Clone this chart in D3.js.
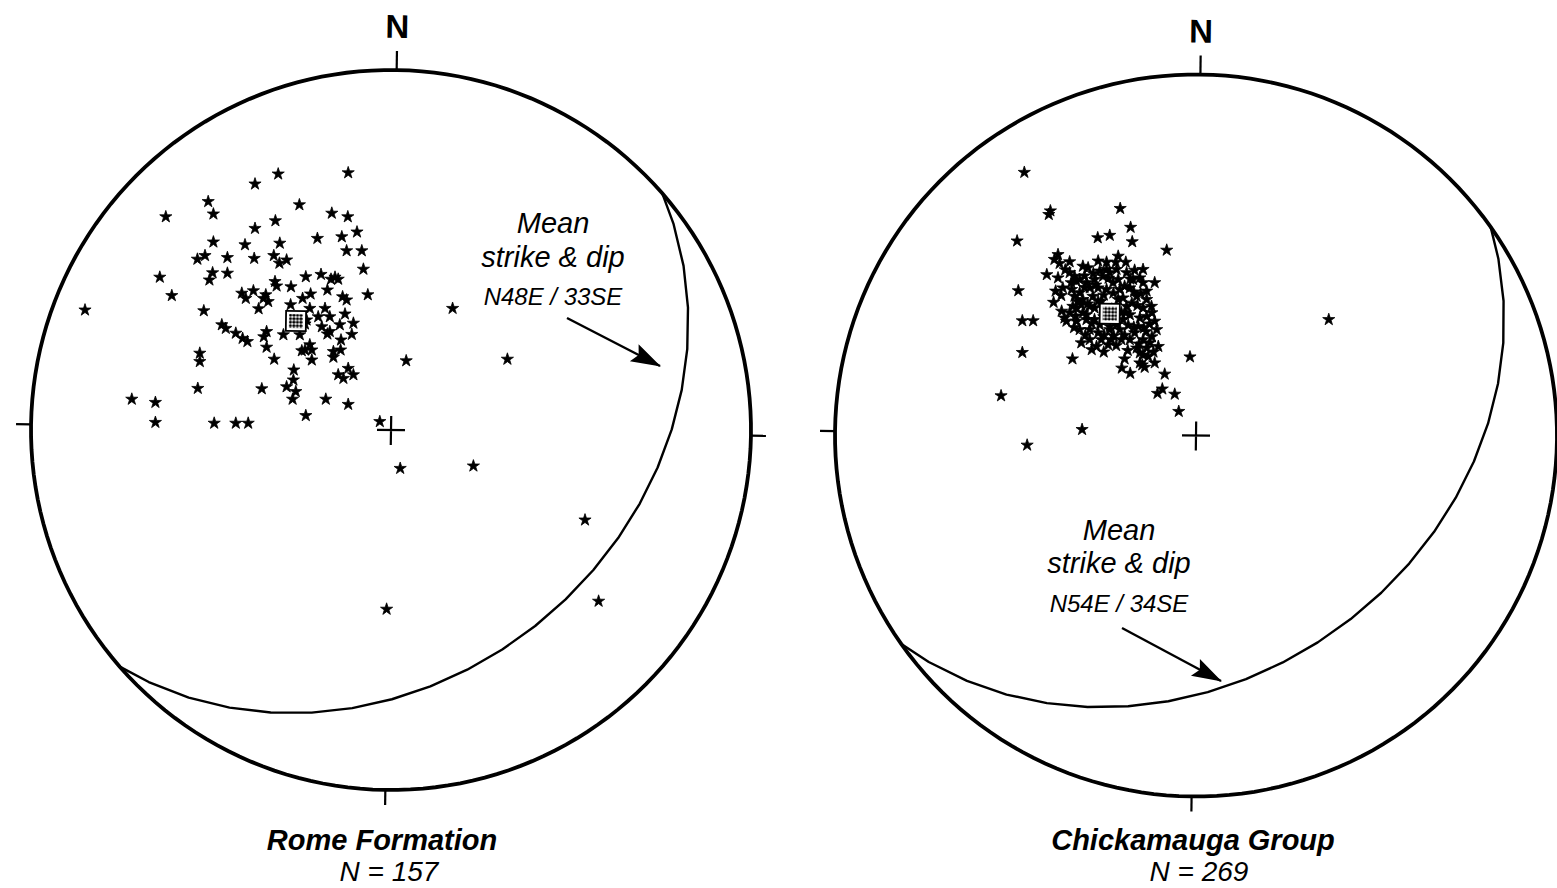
<!DOCTYPE html>
<html>
<head>
<meta charset="utf-8">
<script src="https://cdn.jsdelivr.net/npm/d3@7"></script>
<style>
  html, body { margin: 0; padding: 0; background: #fff; }
  text { font-family: "Liberation Sans", Arial, Helvetica, sans-serif; }
</style>
</head>
<body>
<script>
// ---------------- DATA ----------------
const netNames   = ["Rome Formation", "Chickamauga Group"];
const netCounts  = [157, 269];
const meanStrike = [48, 54];     // N48E, N54E
const meanDip    = [33, 34];     // 33SE, 34SE
const meanLabels = ["N48E / 33SE", "N54E / 34SE"];
const tickTrends = [0, 90, 180, 270];

// Poles to bedding (east, north; primitive radius = 90 units)
const romePoles = [
 [-10.7,64.3],[-28.2,64.0],[-34.0,61.5],[-45.7,57.1],[-22.9,56.3],[-56.3,53.3],[-44.4,54.0],[-14.8,54.2],[-10.8,53.3],[-28.9,52.3],
 [-34.0,50.4],[-8.5,49.5],[-12.3,48.3],[-18.4,47.9],[-44.4,47.0],[-36.5,46.3],[-27.8,46.7],[-11.1,44.8],[-7.3,44.8],[-48.4,42.7],
 [-46.5,43.6],[-40.9,43.1],[-34.2,42.9],[-29.3,43.6],[-27.9,41.7],[-26.1,42.5],[-6.9,40.2],[-57.8,38.2],[-44.6,39.3],[-45.4,37.5],
 [-40.9,39.2],[-21.3,38.3],[-17.5,38.9],[-15.0,37.7],[-14.0,38.2],[-13.2,37.7],[-29.0,37.1],[-28.6,36.0],[-25.0,35.8],[-54.8,33.6],
 [-37.3,34.2],[-36.3,32.9],[-34.4,34.8],[-31.3,33.8],[-31.9,32.9],[-30.7,32.1],[-33.1,30.3],[-22.1,32.9],[-20.1,34.0],[-15.9,35.0],
 [-12.1,33.3],[-11.1,32.5],[-5.8,33.8],[-46.8,29.8],[-25.1,31.3],[-20.3,30.4],[-16.5,30.4],[-15.3,28.3],[-11.5,29.0],[-21.1,27.5],
 [-18.2,28.3],[-17.3,25.8],[-9.4,26.7],[-12.8,26.3],[-21.5,26.5],[-42.3,26.3],[-41.3,25.4],[-38.8,24.2],[-37.1,22.9],[-35.9,22.1],
 [-31.1,24.6],[-31.8,23.3],[-26.9,23.8],[-22.8,23.8],[-15.9,24.0],[-15.3,24.6],[-9.8,23.9],[-12.5,22.5],[-31.1,20.7],[-22.3,19.8],
 [-20.3,21.3],[-19.8,20.0],[-21.5,20.0],[-14.4,19.6],[-12.6,20.0],[-14.4,18.2],[-47.8,19.2],[-47.8,17.1],[-29.2,17.7],[-19.8,17.5],
 [-24.3,15.0],[-13.2,13.8],[-11.9,12.9],[-10.7,15.4],[-9.4,13.8],[-24.4,12.5],[-26.1,10.8],[-23.8,9.6],[-24.6,7.7],[-48.3,10.4],
 [-32.3,10.3],[-16.3,7.7],[-10.7,6.4],[-64.8,7.7],[-58.9,6.9],[-58.9,1.9],[-44.2,1.7],[-38.8,1.7],[-35.7,1.7],[-21.3,3.6],
 [-2.8,2.1],[3.8,17.3],[-76.5,30.0],[15.4,30.4],[29.1,17.7],[2.3,-9.6],[20.6,-9.0],[48.5,-22.5],[51.9,-42.8],[-1.1,-44.8]
];

const chickPoles = [
 [-42.8,65.6],[-36.3,56.0],[-36.7,55.1],[-18.9,56.6],[-16.3,51.9],[-44.6,48.5],[-24.5,49.3],[-21.5,49.9],[-15.9,48.3],[-7.3,46.2],
 [-19.4,44.7],[-44.3,36.1],[-43.3,28.6],[-40.6,28.6],[33.1,28.9],[-43.3,20.7],[-30.8,19.1],[-1.5,19.6],[-17.8,19.1],[-18.5,16.8],
 [-16.4,15.5],[-13.4,17.6],[-10.3,18.1],[-7.8,15.3],[-48.6,9.9],[-9.6,10.5],[-8.4,11.6],[-5.3,10.3],[-4.3,6.0],[-28.4,1.5],
 [-42.1,-2.4],
 [-34.4,45.1],[-35.3,43.9],[-34.0,42.9],[-31.5,43.3],[-37.2,40.1],[-34.4,39.3],[-31.5,40.6],[-30.3,39.7],[-29.8,38.5],[-28.2,42.2],
 [-26.9,41.8],[-24.4,43.5],[-22.3,43.2],[-35.0,36.0],[-33.6,34.9],[-35.5,33.2],[-29.0,38.9],[-27.3,38.1],[-25.3,38.9],[-23.2,39.7],
 [-21.5,40.6],[-19.4,38.9],[-17.3,40.6],[-15.3,41.2],[-13.2,41.4],[-10.3,38.1],[-13.2,38.1],[-16.5,36.8],[-14.8,34.7],[-12.3,33.9],
 [-11.1,32.2],[-29.0,35.6],[-28.2,33.9],[-25.7,34.7],[-24.4,36.8],[-22.3,36.4],[-29.8,31.8],[-28.2,30.6],[-26.5,32.2],[-24.4,33.5],
 [-18.2,34.3],[-17.3,32.2],[-16.5,30.1],[-18.6,30.6],[-14.0,29.3],[-14.4,27.2],[-10.3,28.5],[-9.8,26.4],[-32.8,29.3],[-32.3,28.5],
 [-29.8,28.5],[-27.3,28.9],[-25.3,28.9],[-29.0,26.4],[-26.5,26.4],[-24.4,25.6],[-21.5,26.4],[-19.0,26.4],[-28.6,23.1],[-24.8,22.2],
 [-21.1,23.9],[-18.6,23.9],[-16.5,23.9],[-15.3,25.6],[-13.2,23.9],[-12.3,21.8],[-14.8,21.8],[-14.0,20.6],[-11.9,19.7],[-14.0,18.1],
 [-30.7,32.2],[-23.6,33.5],[-19.4,33.9],[-25.3,31.8],[-18.2,28.9],[-24.0,27.6],[-21.5,27.2],[-19.8,27.6],[-26.5,36.8],[-20.7,38.1],
 [-19.0,36.4],[-17.8,37.2],[-22.3,41.4],[-19.8,41.4],[-24.0,41.0],[-15.7,38.9],[-14.0,39.3],[-12.3,36.0],[-13.2,31.8],[-12.3,29.7],
 [-27.3,30.1],[-28.6,32.6],[-30.3,34.7],[-31.1,38.1],[-33.2,36.8],[-11.5,23.1],[-9.4,22.2],[-13.2,20.1],[-21.9,22.6],[-23.6,23.9],
 [-26.5,23.9],
 [-31.0,36.4],[-27.8,36.9],[-23.0,35.0],[-20.6,35.5],[-16.0,33.0],[-21.0,31.5],[-14.6,32.4],[-11.0,30.6],[-31.5,30.6],[-30.4,26.9],
 [-27.6,25.0],[-22.9,25.0],[-16.9,27.5],[-12.4,25.9],[-19.9,22.4],[-17.0,21.2],[-23.0,20.8],[-26.0,21.4],[-10.6,20.8],[-12.8,17.0],
 [-20.0,43.2],[-17.5,43.2],[-27.8,39.8],[-32.6,41.3],
 [-33.5,31.0],[-30.0,29.8],[-26.0,27.9],[-23.0,29.6],[-15.5,27.0],[-13.0,26.8],[-11.6,27.8],[-17.5,30.6],[-25.0,37.5],[-21.8,39.2],
 [-16.4,39.0],[-29.5,33.4],[-15.5,35.8],[-13.8,35.4],[-27.0,32.8],[-20.5,24.8],[-17.8,25.0],[-14.2,22.8],[-11.0,24.6],[-25.6,40.4]
];
const polesByNet = [romePoles, chickPoles];

// ---------------- LAYOUT ----------------
const W = 1557, H = 888;
const layout = [
  { cx: 391, cy: 430, R: 360, rot: 0.9,
    meanX: 553, meanY: [233, 267, 305], arrow: [[567, 318], [660, 366]],
    titleX: 382, titleY: 850, countX: 389, countY: 881 },
  { cx: 1196, cy: 435.5, R: 361, rot: 0.7,
    meanX: 1119, meanY: [540, 573, 612], arrow: [[1122, 628], [1221, 681]],
    titleX: 1193, titleY: 850, countX: 1199, countY: 881 }
];

const svg = d3.select("body").append("svg")
  .attr("width", W).attr("height", H).attr("viewBox", `0 0 ${W} ${H}`);
svg.append("rect").attr("width", W).attr("height", H).attr("fill", "#fff");

const defs = svg.append("defs");
const pat = defs.append("pattern").attr("id", "dots")
  .attr("patternUnits", "userSpaceOnUse").attr("width", 3.5).attr("height", 3.5);
pat.append("rect").attr("width", 3.5).attr("height", 3.5).attr("fill", "#fff");
pat.append("circle").attr("cx", 1.75).attr("cy", 1.75).attr("r", 1.6).attr("fill", "#000");

defs.append("marker").attr("id", "arrowhead")
  .attr("viewBox", "0 0 30 20").attr("refX", 29).attr("refY", 10)
  .attr("markerWidth", 32).attr("markerHeight", 20)
  .attr("markerUnits", "userSpaceOnUse").attr("orient", "auto")
  .append("path").attr("d", "M0,0.5 L30,10 L0,19.5 L5,10 Z").attr("fill", "#000");

const star = d3.symbol(d3.symbolStar, 46);

layout.forEach((L, i) => {
  const proj = d3.geoAzimuthalEqualArea()
    .rotate([0, -90])
    .scale(L.R / Math.SQRT2)
    .translate([L.cx, L.cy])
    .clipAngle(90)
    .precision(0);
  const path = d3.geoPath(proj);
  // trend (clockwise from N), plunge -> lon/lat on the lower-hemisphere net
  const toLonLat = (trend, plunge) => [180 - trend, plunge];
  const rotT = `rotate(${L.rot},${L.cx},${L.cy})`;

  const g = svg.append("g");
  const gr = g.append("g").attr("transform", rotT);

  // primitive circle
  gr.append("path").datum({ type: "Sphere" }).attr("d", path)
    .attr("fill", "none").attr("stroke", "#000").attr("stroke-width", 3.8);

  // ticks
  tickTrends.forEach(t => {
    const p = proj(toLonLat(t, 0));
    const ux = (p[0] - L.cx) / L.R, uy = (p[1] - L.cy) / L.R;
    const len = t === 0 ? 19 : 15;
    gr.append("line")
      .attr("x1", p[0]).attr("y1", p[1])
      .attr("x2", p[0] + ux * len).attr("y2", p[1] + uy * len)
      .attr("stroke", "#000").attr("stroke-width", 2.2);
    if (t === 0) {
      gr.append("text").attr("x", p[0]).attr("y", p[1] - len - 13)
        .attr("text-anchor", "middle").attr("font-size", 33).attr("font-weight", "bold")
        .text("N");
    }
  });

  // centre cross
  const c = proj(toLonLat(0, 90));
  gr.append("path").attr("d", `M${c[0] - 14},${c[1]}H${c[0] + 14}M${c[0]},${c[1] - 14}V${c[1] + 15}`)
    .attr("stroke", "#000").attr("stroke-width", 2.2).attr("fill", "none");

  // mean plane great circle
  const dipDir = (meanStrike[i] + 90) % 360;
  const poleTrend = (dipDir + 180) % 360, polePlunge = 90 - meanDip[i];
  const ring = d3.geoCircle().center(toLonLat(poleTrend, polePlunge)).radius(90).precision(8)();
  gr.append("path").datum({ type: "LineString", coordinates: ring.coordinates[0] })
    .attr("d", path).attr("fill", "none").attr("stroke", "#000").attr("stroke-width", 2.4)
    .attr("stroke-linejoin", "round");

  // poles (stars) — linear net scales
  const x = d3.scaleLinear().domain([-90, 90]).range([L.cx - L.R, L.cx + L.R]);
  const y = d3.scaleLinear().domain([-90, 90]).range([L.cy + L.R, L.cy - L.R]);
  g.append("g").selectAll("path").data(polesByNet[i]).join("path")
    .attr("d", star)
    .attr("transform", d => `translate(${x(d[0])},${y(d[1])})`)
    .attr("fill", "#000").attr("stroke", "#000").attr("stroke-width", 0.8)
    .attr("stroke-linejoin", "round");

  // mean pole box (on top of the stars)
  const gb = g.append("g").attr("transform", rotT);
  const mp = proj(toLonLat(poleTrend, polePlunge));
  gb.append("rect").attr("x", mp[0] - 10).attr("y", mp[1] - 10).attr("width", 20).attr("height", 20)
    .attr("fill", "#fff").attr("stroke", "#000").attr("stroke-width", 1.8);
  gb.append("rect").attr("x", mp[0] - 7).attr("y", mp[1] - 7).attr("width", 14).attr("height", 14)
    .attr("fill", "url(#dots)");

  // mean label
  const lab = g.append("g").attr("font-style", "italic").attr("text-anchor", "middle");
  lab.append("text").attr("x", L.meanX).attr("y", L.meanY[0]).attr("font-size", 29).text("Mean");
  lab.append("text").attr("x", L.meanX).attr("y", L.meanY[1]).attr("font-size", 29).text("strike & dip");
  lab.append("text").attr("x", L.meanX).attr("y", L.meanY[2]).attr("font-size", 24).text(meanLabels[i]);

  g.append("line")
    .attr("x1", L.arrow[0][0]).attr("y1", L.arrow[0][1])
    .attr("x2", L.arrow[1][0]).attr("y2", L.arrow[1][1])
    .attr("stroke", "#000").attr("stroke-width", 2.4)
    .attr("marker-end", "url(#arrowhead)");

  // titles
  g.append("text").attr("x", L.titleX).attr("y", L.titleY)
    .attr("text-anchor", "middle").attr("font-size", 29).attr("font-weight", "bold").attr("font-style", "italic")
    .text(netNames[i]);
  g.append("text").attr("x", L.countX).attr("y", L.countY)
    .attr("text-anchor", "middle").attr("font-size", 28).attr("font-style", "italic")
    .text(`N = ${netCounts[i]}`);
});
</script>
</body>
</html>
